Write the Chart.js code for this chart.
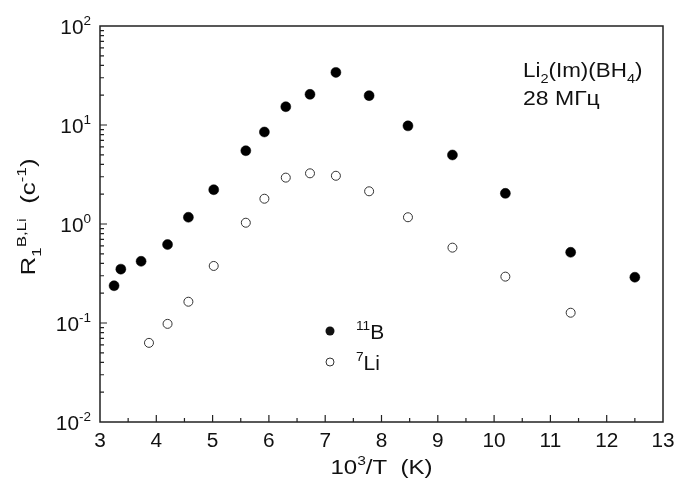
<!DOCTYPE html>
<html>
<head>
<meta charset="utf-8">
<script src="https://cdn.jsdelivr.net/npm/chart.js@4.4.0/dist/chart.umd.min.js"></script>
<style>
  html, body { margin: 0; padding: 0; background: #fff; }
</style>
</head>
<body>
<canvas id="chart" width="677" height="488"></canvas>
<script>
// 11B relaxation rate
const xB = [3.25, 3.37, 3.73, 4.20, 4.57, 5.02, 5.59, 5.92, 6.30, 6.73, 7.19, 7.78, 8.47, 9.26, 10.20, 11.36, 12.50];
const yB = [0.238, 0.35, 0.42, 0.62, 1.17, 2.22, 5.5, 8.5, 15.3, 20.4, 34, 19.8, 9.8, 4.98, 2.04, 0.518, 0.29];
// 7Li relaxation rate
const xLi = [3.87, 4.20, 4.57, 5.02, 5.59, 5.92, 6.30, 6.73, 7.19, 7.78, 8.47, 9.26, 10.20, 11.36];
const yLi = [0.063, 0.098, 0.164, 0.377, 1.03, 1.8, 2.94, 3.25, 3.07, 2.14, 1.17, 0.577, 0.294, 0.127];

const xTicks = [3, 4, 5, 6, 7, 8, 9, 10, 11, 12, 13];
const yTickExps = [-2, -1, 0, 1, 2];

const FONT = 'Arial, "Liberation Sans", sans-serif';

function toPts(xs, ys) {
  return xs.map((x, i) => ({ x: x, y: ys[i] }));
}

// draws a run of text pieces: {t, k} where k = 'n' normal, 'sup', 'sub'
// sx stretches the run along its direction (the reference glyphs are a bit wide)
function drawRich(ctx, parts, x, y, align, size, sx) {
  sx = sx || 1;
  const small = Math.round(size * 0.65);
  let w = 0;
  parts.forEach(p => {
    ctx.font = (p.k === 'n' ? size : small) + 'px ' + FONT;
    p.w = ctx.measureText(p.t).width;
    w += p.w;
  });
  let cx = 0;
  if (align === 'right') cx = -w;
  if (align === 'center') cx = -w / 2;
  ctx.save();
  ctx.translate(x, y);
  ctx.scale(sx, 1);
  ctx.textAlign = 'left';
  ctx.textBaseline = 'alphabetic';
  parts.forEach(p => {
    ctx.font = (p.k === 'n' ? size : small) + 'px ' + FONT;
    let dy = 0;
    if (p.k === 'sup') dy = -size * 0.45;
    if (p.k === 'sub') dy = size * 0.28;
    ctx.fillText(p.t, cx, dy);
    cx += p.w;
  });
  ctx.restore();
}

const framePlugin = {
  id: 'frame',
  afterDraw(chart) {
    const ctx = chart.ctx;
    const a = chart.chartArea;
    const xs = chart.scales.x;
    const ys = chart.scales.y;
    ctx.save();
    ctx.strokeStyle = '#222';
    ctx.fillStyle = '#111';
    ctx.lineWidth = 1.5;
    ctx.strokeRect(a.left, a.top, a.right - a.left, a.bottom - a.top);

    // x ticks, pointing inward
    ctx.lineWidth = 1.2;
    ctx.beginPath();
    xTicks.forEach((v, i) => {
      const px = xs.getPixelForValue(v);
      if (i > 0 && i < xTicks.length - 1) {
        ctx.moveTo(px, a.bottom);
        ctx.lineTo(px, a.bottom - 7);
      }
      if (i < xTicks.length - 1) {
        const pm = xs.getPixelForValue(v + 0.5);
        ctx.moveTo(pm, a.bottom);
        ctx.lineTo(pm, a.bottom - 4);
      }
    });
    // y ticks, pointing inward
    yTickExps.forEach((e, i) => {
      const py = ys.getPixelForValue(Math.pow(10, e));
      if (i > 0 && i < yTickExps.length - 1) {
        ctx.moveTo(a.left, py);
        ctx.lineTo(a.left + 7, py);
      }
      if (i < yTickExps.length - 1) {
        for (let m = 2; m <= 9; m++) {
          const pm = ys.getPixelForValue(m * Math.pow(10, e));
          ctx.moveTo(a.left, pm);
          ctx.lineTo(a.left + 4, pm);
        }
      }
    });
    ctx.stroke();

    // tick labels
    xTicks.forEach(v => {
      drawRich(ctx, [{ t: String(v), k: 'n' }], xs.getPixelForValue(v), a.bottom + 25, 'center', 20, 1.04);
    });
    yTickExps.forEach(e => {
      const py = ys.getPixelForValue(Math.pow(10, e));
      drawRich(ctx, [{ t: '10', k: 'n' }, { t: String(e), k: 'sup' }], 91, py + 8, 'right', 20, 1.04);
    });

    // axis titles
    drawRich(ctx, [{ t: '10', k: 'n' }, { t: '3', k: 'sup' }, { t: '/T  (K)', k: 'n' }], (a.left + a.right) / 2, 474, 'center', 20, 1.2);
    ctx.save();
    ctx.translate(35, 217);
    ctx.rotate(-Math.PI / 2);
    drawRich(ctx, [{ t: 'R', k: 'n' }, { t: '1', k: 'sub' }, { t: 'B,Li', k: 'sup' }, { t: '  (c', k: 'n' }, { t: '-1', k: 'sup' }, { t: ')', k: 'n' }], 0, 0, 'center', 20, 1.3);
    ctx.restore();

    // annotation
    drawRich(ctx, [{ t: 'Li', k: 'n' }, { t: '2', k: 'sub' }, { t: '(Im)(BH', k: 'n' }, { t: '4', k: 'sub' }, { t: ')', k: 'n' }], 523, 77, 'left', 20, 1.12);
    drawRich(ctx, [{ t: '28 МГц', k: 'n' }], 523, 105, 'left', 20, 1.15);

    // legend
    ctx.beginPath();
    ctx.arc(330, 331, 4.5, 0, Math.PI * 2);
    ctx.fill();
    ctx.beginPath();
    ctx.lineWidth = 1;
    ctx.strokeStyle = '#333';
    ctx.arc(330, 362, 4, 0, Math.PI * 2);
    ctx.stroke();
    drawRich(ctx, [{ t: '11', k: 'sup' }, { t: 'B', k: 'n' }], 356, 339, 'left', 20, 1.05);
    drawRich(ctx, [{ t: '7', k: 'sup' }, { t: 'Li', k: 'n' }], 356, 370, 'left', 20, 1.05);
    ctx.restore();
  }
};

new Chart(document.getElementById('chart'), {
  type: 'scatter',
  data: {
    datasets: [
      {
        label: '11B',
        data: toPts(xB, yB),
        pointRadius: 5,
        pointBackgroundColor: '#000',
        pointBorderColor: '#000',
        pointBorderWidth: 0.5
      },
      {
        label: '7Li',
        data: toPts(xLi, yLi),
        pointRadius: 4.5,
        pointBackgroundColor: '#fff',
        pointBorderColor: '#333',
        pointBorderWidth: 1
      }
    ]
  },
  options: {
    responsive: false,
    animation: false,
    layout: { padding: { left: 100, right: 14, top: 26, bottom: 66 } },
    plugins: { legend: { display: false }, tooltip: { enabled: false } },
    scales: {
      x: { type: 'linear', min: 3, max: 13, display: false },
      y: { type: 'logarithmic', min: 0.01, max: 100, display: false }
    }
  },
  plugins: [framePlugin]
});
</script>
</body>
</html>
